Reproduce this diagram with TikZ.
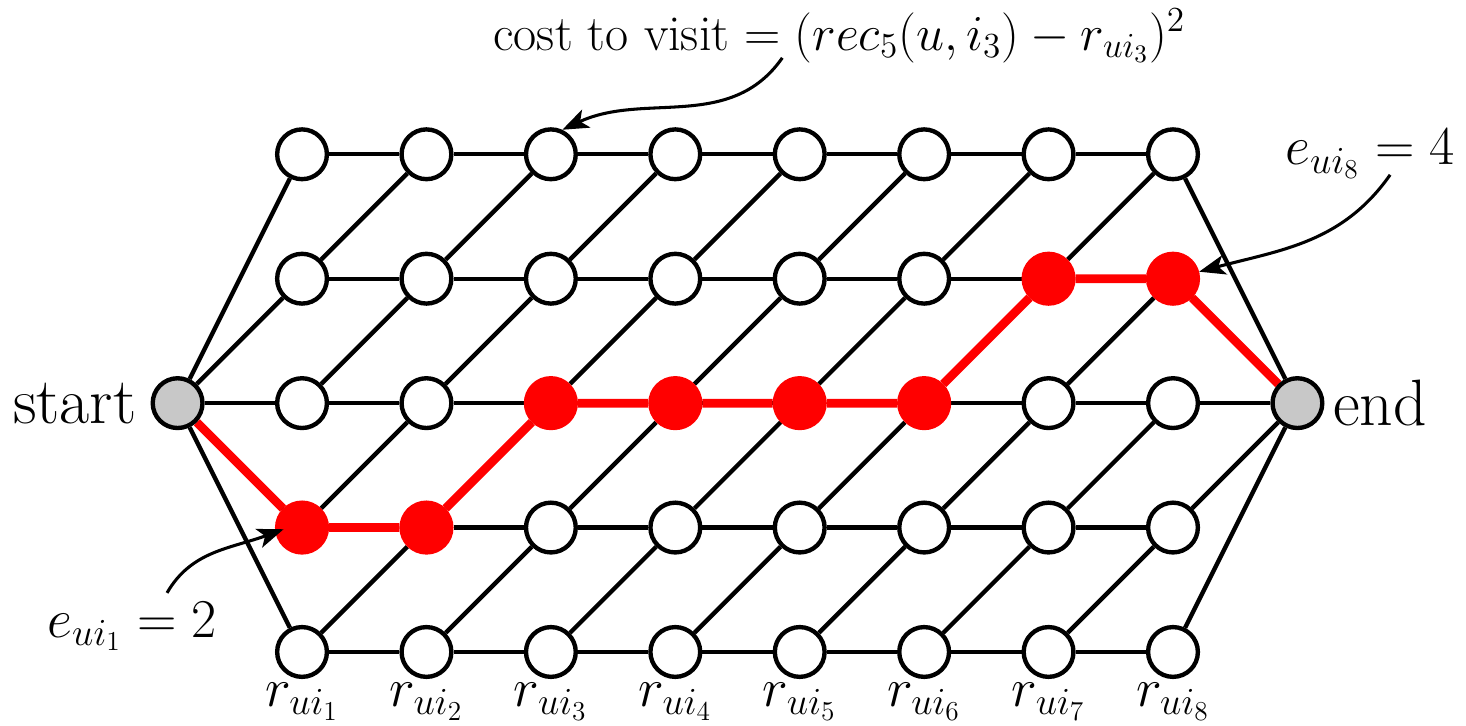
\RequirePackage{fix-cm}
\documentclass[tikz,border=0pt]{standalone}
\usepackage{xcolor}
\usepackage{tikz}
\usetikzlibrary{arrows.meta,positioning,backgrounds}
\definecolor{pathred}{HTML}{FF0000}
\definecolor{endgrey}{HTML}{C8C8C8}

\begin{document}
\begin{tikzpicture}[
    vtx/.style={circle, draw, line width=2pt, fill=white, minimum size=0.8cm, inner sep=0pt},
    hit/.style={vtx, draw=pathred, fill=pathred},
    edge/.style={line width=2pt},
    redge/.style={pathred, line width=4pt},
    note/.style={font=\fontsize{25}{30}\selectfont, inner sep=0pt},
    lab/.style={font=\fontsize{25}{30}\selectfont, inner sep=0pt},
    pointer/.style={-{Stealth[length=12pt,width=9pt,inset=3pt]}, line width=1.4pt}]
  \useasboundingbox (-4.855,-5.18) rectangle (18.71,6.48);
  \node[vtx, fill=endgrey] (S) at (-2,0) {};
  \node[vtx, fill=endgrey] (E) at (16,0) {};
  \foreach \c/\p in {1/4,2/4,3/3,4/3,5/3,6/3,7/2,8/2}
    \foreach \r in {1,...,5}{
      \ifnum\r=\p
        \node[hit] (n\c\r) at ({2*(\c-1)},{2*(3-\r)}) {};
      \else
        \node[vtx] (n\c\r) at ({2*(\c-1)},{2*(3-\r)}) {};
      \fi
    }
  \begin{scope}[on background layer]
    \foreach \r in {1,...,5}{
      \draw[edge] (S) -- (n1\r);
      \draw[edge] (n8\r) -- (E);
    }
    \foreach \c [evaluate=\c as \d using int(\c+1)] in {1,...,7}{
      \foreach \r in {1,...,5}
        \draw[edge] (n\c\r) -- (n\d\r);
      \foreach \r [evaluate=\r as \u using int(\r-1)] in {2,...,5}
        \draw[edge] (n\c\r) -- (n\d\u);
    }
    \draw[redge] (S) -- (n14) -- (n24) -- (n33) -- (n43) -- (n53) -- (n63) -- (n72) -- (n82) -- (E);
  \end{scope}
  \node[font=\fontsize{30}{36}\selectfont, inner sep=0pt, left=0.22cm of S] (startlab) {start};
  \node[font=\fontsize{30}{36}\selectfont, inner sep=0pt, right=0.13cm of E] (endlab) {end};
  \foreach \c in {1,...,8}
    \node[lab, anchor=base] (r\c) at ([yshift=-0.88cm]n\c5) {$r_{ui_{\c}}$};
  \node[note, font=\fontsize{23}{28}\selectfont, anchor=base west] (cost) at (3.07,5.675) {cost to visit $=(rec_5(u,i_3)-r_{ui_3})^2$};
  \node[note, anchor=base west] (e8) at (15.80,3.83) {$e_{ui_8}=4$};
  \node[note, anchor=base west] (e1) at (-4.10,-3.76) {$e_{ui_1}=2$};
  \coordinate (costtail) at (7.72,5.55);
  \coordinate (e8tail) at (17.49,3.67);
  \coordinate (e1tail) at (-2.17,-3.05);
  \draw[pointer] (costtail) to[out=235,in=25] (n31.65);
  \draw[pointer] (e8tail) to[out=235,in=15] (n82.15);
  \draw[pointer, shorten >=-4pt] (e1tail) to[out=60,in=200] (n14.190);
\end{tikzpicture}
\end{document}
